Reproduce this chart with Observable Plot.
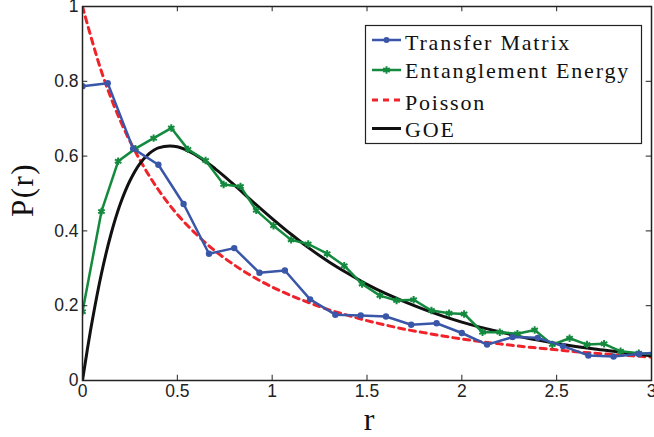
<!DOCTYPE html>
<html><head><meta charset="utf-8">
<script src="https://cdn.jsdelivr.net/npm/d3@7"></script>
<script src="https://cdn.jsdelivr.net/npm/@observablehq/plot@0.6"></script>
<style>body{margin:0;background:#fff}</style>
</head><body><div id="chart"></div>
<script>
// Transfer Matrix
const tmR = [0, 0.133, 0.267, 0.4, 0.533, 0.667, 0.8, 0.933, 1.067, 1.2, 1.333, 1.467, 1.6, 1.733, 1.867, 2.0, 2.133, 2.267, 2.4, 2.533, 2.667, 2.8, 2.933, 3.067];
const tmP = [0.787, 0.795, 0.62, 0.577, 0.472, 0.339, 0.354, 0.288, 0.294, 0.217, 0.176, 0.174, 0.171, 0.149, 0.153, 0.127, 0.096, 0.116, 0.114, 0.092, 0.067, 0.064, 0.071, 0.076];
// Entanglement Energy
const eeR = [0, 0.1, 0.188, 0.279, 0.375, 0.468, 0.556, 0.649, 0.744, 0.833, 0.916, 1.007, 1.10, 1.19, 1.29, 1.38, 1.474, 1.568, 1.656, 1.746, 1.84, 1.933, 2.012, 2.109, 2.2, 2.293, 2.384, 2.477, 2.568, 2.66, 2.75, 2.837, 2.933, 3.025];
const eeP = [0.184, 0.452, 0.586, 0.62, 0.648, 0.675, 0.618, 0.588, 0.524, 0.519, 0.455, 0.414, 0.376, 0.365, 0.339, 0.307, 0.258, 0.227, 0.214, 0.216, 0.187, 0.18, 0.178, 0.129, 0.129, 0.125, 0.135, 0.096, 0.113, 0.096, 0.098, 0.078, 0.073, 0.070];
// Poisson curve (read)
const poR = [0, 0.1, 0.2, 0.3, 0.4, 0.5, 0.6, 0.7, 0.8, 0.9, 1.0, 1.1, 1.2, 1.3, 1.4, 1.5, 1.6, 1.7, 1.8, 1.9, 2.0, 2.1, 2.2, 2.3, 2.4, 2.5, 2.6, 2.7, 2.8, 2.9, 3.0];
const poP = [1, 0.826, 0.694, 0.592, 0.510, 0.444, 0.391, 0.346, 0.309, 0.277, 0.25, 0.227, 0.207, 0.189, 0.174, 0.16, 0.148, 0.137, 0.128, 0.119, 0.111, 0.104, 0.098, 0.092, 0.087, 0.082, 0.077, 0.073, 0.069, 0.066, 0.0625];
// GOE curve (read)
const goR = [0, 0.025, 0.05, 0.1, 0.15, 0.2, 0.25, 0.3, 0.35, 0.4, 0.5, 0.6, 0.7, 0.8, 0.9, 1.0, 1.1, 1.2, 1.3, 1.4, 1.5, 1.6, 1.7, 1.8, 1.9, 2.0, 2.1, 2.2, 2.3, 2.4, 2.5, 2.6, 2.7, 2.8, 2.9, 3.0];
const goP = [0, 0.081, 0.156, 0.286, 0.391, 0.473, 0.534, 0.578, 0.606, 0.622, 0.625, 0.602, 0.566, 0.523, 0.477, 0.433, 0.391, 0.352, 0.317, 0.286, 0.257, 0.232, 0.210, 0.190, 0.172, 0.156, 0.142, 0.130, 0.118, 0.108, 0.099, 0.091, 0.084, 0.078, 0.072, 0.066];

const xTicks = [0, 0.5, 1, 1.5, 2, 2.5, 3];
const yTicks = [0, 0.2, 0.4, 0.6, 0.8, 1];
const seriesNames = ["Transfer Matrix", "Entanglement Energy", "Poisson", "GOE"];
const colors = ["#3a56a8", "#138a3e", "#f0232a", "#111111"];

const tm = tmR.map((r, i) => ({r, p: tmP[i]}));
const ee = eeR.map((r, i) => ({r, p: eeP[i]}));
const po = poR.map((r, i) => ({r, p: poP[i]}));
const go = goR.map((r, i) => ({r, p: goP[i]}));

const chart = Plot.plot({
  width: 654, height: 437,
  marginLeft: 82, marginRight: 3, marginTop: 6, marginBottom: 57,
  x: {domain: [0, 3]},
  y: {domain: [0, 1]},
  style: {fontFamily: "'Liberation Sans', Arial, sans-serif", background: "white"},
  marks: [
    Plot.line(po, {x: "r", y: "p", stroke: colors[2], strokeWidth: 3, strokeDasharray: "6,5", curve: "catmull-rom", clip: true}),
    Plot.line(go, {x: "r", y: "p", stroke: colors[3], strokeWidth: 3, curve: "catmull-rom", clip: true}),
    Plot.line(ee, {x: "r", y: "p", stroke: colors[1], strokeWidth: 2.5, clip: true}),
    Plot.dot(ee, {x: "r", y: "p", stroke: colors[1], symbol: "asterisk", r: 3.5, strokeWidth: 2, clip: true}),
    Plot.line(tm, {x: "r", y: "p", stroke: colors[0], strokeWidth: 2.5, clip: true}),
    Plot.dot(tm, {x: "r", y: "p", fill: colors[0], r: 3.2, clip: true}),
    Plot.frame({stroke: "#222", strokeWidth: 1.5}),
    Plot.ruleX(xTicks, {x: d => d, y1: 0, y2: 0.014, stroke: "#222"}),
    Plot.ruleX(xTicks, {x: d => d, y1: 1, y2: 0.986, stroke: "#222"}),
    Plot.ruleY(yTicks, {y: d => d, x1: 0, x2: 0.028, stroke: "#222"}),
    Plot.ruleY(yTicks, {y: d => d, x1: 3, x2: 2.972, stroke: "#222"}),
    Plot.axisX(xTicks, {tickSize: 0, tickPadding: 4, fontSize: 17.5, fill: "#222", tickFormat: d => String(d), label: null}),
    Plot.axisY(yTicks, {tickSize: 0, tickPadding: 4, fontSize: 17.5, fill: "#222", tickFormat: d => String(d), label: null})
  ]
});
document.getElementById("chart").appendChild(chart);

const svg = d3.select(chart);
const serif = "'Liberation Serif', 'DejaVu Serif', serif";
svg.append("text").attr("x", 369).attr("y", 430).attr("text-anchor", "middle")
  .style("font-family", serif).style("font-size", "32px").attr("fill", "#111").text("r");
svg.append("text").attr("transform", "translate(33,190) rotate(-90)").attr("text-anchor", "middle")
  .style("font-family", serif).style("font-size", "31px").style("letter-spacing", "1.5px").attr("fill", "#111").text("P(r)");

const lg = svg.append("g");
lg.append("rect").attr("x", 365.5).attr("y", 25.5).attr("width", 276).attr("height", 118)
  .attr("fill", "white").attr("stroke", "#222").attr("stroke-width", 1.2);
const lineY = [40, 70, 100, 128.5];
const baseY = [49.5, 78, 109.5, 137];
seriesNames.forEach((name, i) => {
  const g = lg.append("g");
  const ln = g.append("line").attr("x1", 372).attr("x2", 401).attr("y1", lineY[i]).attr("y2", lineY[i])
    .attr("stroke", colors[i]).attr("stroke-width", i >= 2 ? 3 : 2.5);
  if (i === 2) ln.attr("stroke-dasharray", "6,5");
  if (i === 0) g.append("circle").attr("cx", 386.5).attr("cy", lineY[i]).attr("r", 3).attr("fill", colors[i]);
  if (i === 1) g.append("path").attr("d", d3.symbol(d3.symbolAsterisk, 40)()).attr("transform", `translate(386.5,${lineY[i]})`)
    .attr("stroke", colors[i]).attr("stroke-width", 2).attr("fill", "none");
  g.append("text").attr("x", 405).attr("y", baseY[i]).attr("text-anchor", "start")
    .style("font-family", serif).style("font-size", "22px").style("letter-spacing", "1.8px")
    .attr("fill", "#111").text(name);
});
</script>
</body></html>
